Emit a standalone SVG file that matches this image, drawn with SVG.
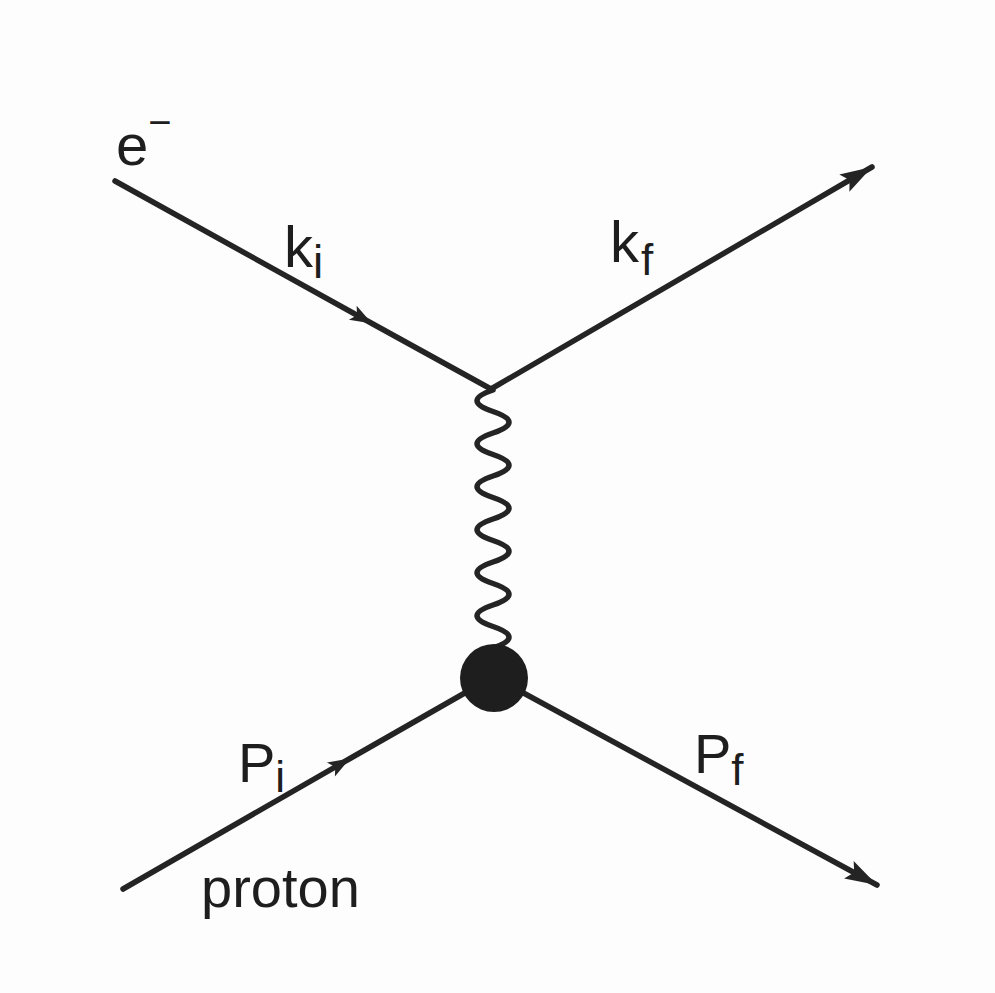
<svg xmlns="http://www.w3.org/2000/svg" width="995" height="993" viewBox="0 0 995 993">
<defs>
<style>
.ln{fill:none;stroke:#242424;stroke-width:5.5;stroke-linecap:round}
.lbl{font-family:"Liberation Sans",Arial,sans-serif;fill:#1e1e1e}
</style>
<marker id="midArrow" markerUnits="userSpaceOnUse" markerWidth="26" markerHeight="20" refX="22" refY="9" orient="auto" viewBox="0 0 26 18">
<path d="M0,1 L22,9 L0,17 L5,9 Z" fill="#242424"/>
</marker>
<marker id="endArrow" markerUnits="userSpaceOnUse" markerWidth="34" markerHeight="24" refX="32" refY="11" orient="auto" viewBox="0 0 34 22">
<path d="M0,1 L32,11 L0,21 L6,11 Z" fill="#242424"/>
</marker>
</defs>
<rect width="995" height="993" fill="#fdfdfd"/>
<g id="connectors">
<path id="e-in" class="ln" d="M115,181 L372,323.5 L491,389" marker-mid="url(#midArrow)"/>
<path id="e-out" class="ln" d="M491,389 L872,167" marker-end="url(#endArrow)"/>
<path id="photon" class="ln" d="M493,390 q-32,10.75 0,21.5 t0,21.5 t0,21.5 t0,21.5 t0,21.5 t0,21.5 t0,21.5 t0,21.5 t0,21.5 t0,21.5 t0,21.5 t0,21.5"/>
<path id="p-in" class="ln" d="M123,889 L350,758.5 L470,690" marker-mid="url(#midArrow)"/>
<path id="p-out" class="ln" d="M518,690 L877,885" marker-end="url(#endArrow)"/>
</g>
<g id="vertex-top">
<circle cx="491" cy="389" r="2.7" fill="#242424"/>
</g>
<g id="blob">
<circle cx="494" cy="678" r="34" fill="#1e1e1e"/>
</g>
<g id="labels">
<text class="lbl" x="116" y="165" font-size="58">e<tspan font-size="40" dy="-29">−</tspan></text>
<text class="lbl" x="284" y="267" font-size="58">k<tspan font-size="46" dy="11">i</tspan></text>
<text class="lbl" x="610" y="262" font-size="58">k<tspan font-size="44" dx="2" dy="13">f</tspan></text>
<text class="lbl" x="238" y="782" font-size="56">P<tspan font-size="44" dy="10">i</tspan></text>
<text class="lbl" x="694" y="773" font-size="56">P<tspan font-size="44" dy="12">f</tspan></text>
<text class="lbl" x="201" y="907" font-size="56">proton</text>
</g>
</svg>
